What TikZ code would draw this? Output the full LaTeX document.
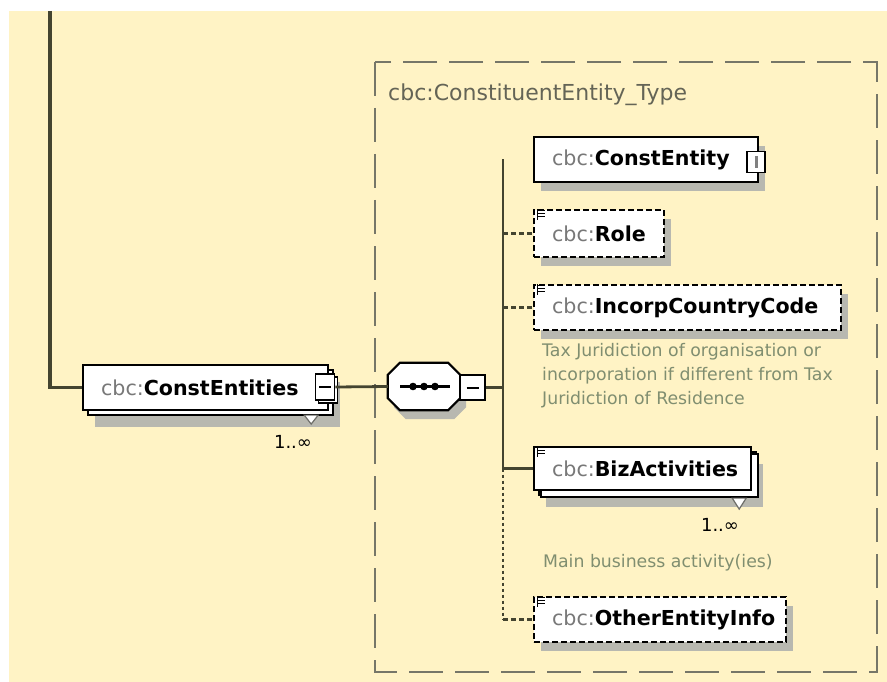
\documentclass[tikz,border=0pt]{standalone}
\usepackage{fontspec}
\setmainfont{DejaVu Sans}
\usetikzlibrary{shadows,calc}

\definecolor{paper}{RGB}{255,243,197}
\definecolor{wire}{RGB}{68,68,48}
\definecolor{frame}{RGB}{118,118,104}
\definecolor{titlegray}{RGB}{100,100,86}
\definecolor{nsgray}{RGB}{120,120,120}
\definecolor{shade}{RGB}{184,184,176}
\definecolor{notegreen}{RGB}{128,142,112}
\definecolor{notchgray}{RGB}{110,110,105}

\newcommand{\qname}[1]{{\color{nsgray}cbc:}\textbf{#1}}

\begin{document}
\begin{tikzpicture}[x=1pt,y=-1pt,
  wire/.style={draw=wire, line width=2.8pt},
  optwire/.style={wire, dash pattern=on 5pt off 3pt},
  dotwire/.style={wire, dash pattern=on 3pt off 3pt},
  elembase/.style={draw=black, line width=2.2pt, fill=white, anchor=west,
    minimum height=45pt, inner xsep=18pt, inner ysep=0pt, align=left,
    font=\fontsize{20.6}{24}\selectfont},
  elem/.style={elembase,
    drop shadow={shadow xshift=7pt, shadow yshift=-9pt, fill=shade, draw=none, opacity=1}},
  optelem/.style={elem, dash pattern=on 6pt off 3pt},
  multielem/.style={elembase,
    drop shadow={shadow xshift=12pt, shadow yshift=-17pt, fill=shade, draw=none, opacity=1},
    copy shadow={shadow xshift=5pt, shadow yshift=-5pt}},
  minusbtn/.style={draw=black, line width=1.8pt, fill=white, inner sep=0pt,
    minimum width=#1, minimum height=24pt,
    path picture={\draw[line width=2pt]
      ([xshift=-6pt]path picture bounding box.center) --
      ([xshift=6pt]path picture bounding box.center);}},
  infobtn/.style={draw=black, line width=1.8pt, fill=white, inner sep=0pt,
    minimum width=18pt, minimum height=21pt,
    path picture={\draw[gray, line width=3pt]
      ([yshift=6pt]path picture bounding box.center) --
      ([yshift=-6pt]path picture bounding box.center);}},
  seqanchor/.style={draw=none, minimum width=72pt, minimum height=47pt, inner sep=0pt},
  octoline/.style={draw=black, line width=2.2pt, fill=white},
  octoshade/.style={fill=shade, transform canvas={xshift=6pt, yshift=-9pt}},
  notch/.style={draw=notchgray, fill=white, line width=1.2pt},
  occurs/.style={font=\fontsize{18}{20}\selectfont, inner sep=0pt},
  note/.style={font=\fontsize{17.3}{24}\selectfont, text=notegreen,
    inner sep=0pt, align=left},
  listmark/.pic={\draw[line width=1pt, black]
    (0,0) -- (7,0) (0,3) -- (7,3) (0,6) -- (7,6) (-1,-2) -- (-1,9);}
]
\useasboundingbox (0,0) rectangle (887,682);
\fill[white] (0,0) rectangle (887,682);
\fill[paper] (9,11) rectangle (887,682);

% complex type frame
\draw[frame, line width=2.2pt, dash pattern=on 34pt off 12pt]
  (375,62) rectangle (877,672);
\node[anchor=west, inner sep=0pt, text=titlegray,
  font=\fontsize{22}{26}\selectfont] (typename) at (388,95)
  {cbc:ConstituentEntity\_Type};

% parent element
\node[multielem, text width=209pt] (ents) at (82,387.5) {\qname{ConstEntities}};
\node[minusbtn=19pt, minimum height=26pt, copy shadow={shadow xshift=3pt, shadow yshift=-3pt}]
  (entsbtn) at (325,387) {};
\draw[notch] ($(ents.south east)+(-25,4)$) -- ($(ents.south east)+(-11,4)$)
  -- ($(ents.south east)+(-18,13)$) -- cycle;
\node[occurs] (entsocc) at (293,442) {1..∞};

\coordinate (feed) at (50,11);
\draw[wire, line width=3.5pt] (feed) |- (ents.west);

% sequence compositor: chamfered box with shadow
\node[seqanchor] (seq) at (424,386.5) {};
\coordinate (o1) at ($(seq.north west)+(12,0)$);
\coordinate (o2) at ($(seq.north east)+(-12,0)$);
\coordinate (o3) at ($(seq.north east)+(0,12)$);
\coordinate (o4) at ($(seq.south east)+(0,-12)$);
\coordinate (o5) at ($(seq.south east)+(-12,0)$);
\coordinate (o6) at ($(seq.south west)+(12,0)$);
\coordinate (o7) at ($(seq.south west)+(0,-12)$);
\coordinate (o8) at ($(seq.north west)+(0,12)$);
\fill[octoshade] (o1) -- (o2) -- (o3) -- (o4) -- (o5) -- (o6) -- (o7) -- (o8) -- cycle;
\draw[octoline] (o1) -- (o2) -- (o3) -- (o4) -- (o5) -- (o6) -- (o7) -- (o8) -- cycle;
\draw[line width=2.2pt] ($(seq.center)+(-24,0)$) -- ($(seq.center)+(26,0)$);
\foreach \dx in {-11,0,11}
  \fill ($(seq.center)+(\dx,0)$) circle (3.8pt);
\node[minusbtn=25pt, minimum height=25pt] (seqbtn) at (472.5,387.5) {};
\draw[wire] (entsbtn.east) -- (seq.west);

% children
\node[elem, text width=188pt] (entity) at (533,159.5) {\qname{ConstEntity}};
\node[infobtn] (entityinfo) at (756,162) {};

\node[optelem, text width=94pt, minimum height=47pt] (role) at (533,233.5) {\qname{Role}};
\pic at ($(role.north west)+(5,2)$) {listmark};

\node[optelem, text width=271pt] (incorp) at (533,307.5) {\qname{IncorpCountryCode}};
\pic at ($(incorp.north west)+(5,2)$) {listmark};
\node[note, anchor=north west] (incorpnote) at (542,343)
  {Tax Juridiction of organisation or\\
   incorporation if different from Tax\\
   Juridiction of Residence};

\node[multielem, text width=181pt, minimum height=43pt, copy shadow={shadow xshift=7pt, shadow yshift=-7pt}]
  (biz) at (533,468.5) {\qname{BizActivities}};
\pic at ($(biz.north west)+(5,2)$) {listmark};
\draw[notch] ($(biz.south east)+(-20,7)$) -- ($(biz.south east)+(-6,7)$)
  -- ($(biz.south east)+(-13,18)$) -- cycle;
\node[occurs] (bizocc) at (720,525) {1..∞};
\node[note, anchor=west] (biznote) at (543,563) {Main business activity(ies)};

\node[optelem, text width=216pt] (other) at (533,619.5) {\qname{OtherEntityInfo}};
\pic at ($(other.north west)+(5,2)$) {listmark};

% sequence spine and branches
\coordinate (spinetop) at (503,159.5);
\coordinate (spinemid) at (503,387.5);
\draw[wire] (seqbtn.east) -- (spinemid);
\draw[wire] (spinetop) -- (spinetop |- biz.west) -- (biz.west);
\draw[dotwire] (spinetop |- biz.west) -- (spinetop |- other.west);
\draw[optwire] (spinetop |- role.west) -- (role.west);
\draw[optwire] (spinetop |- incorp.west) -- (incorp.west);
\draw[optwire] (spinetop |- other.west) -- (other.west);
\end{tikzpicture}
\end{document}
